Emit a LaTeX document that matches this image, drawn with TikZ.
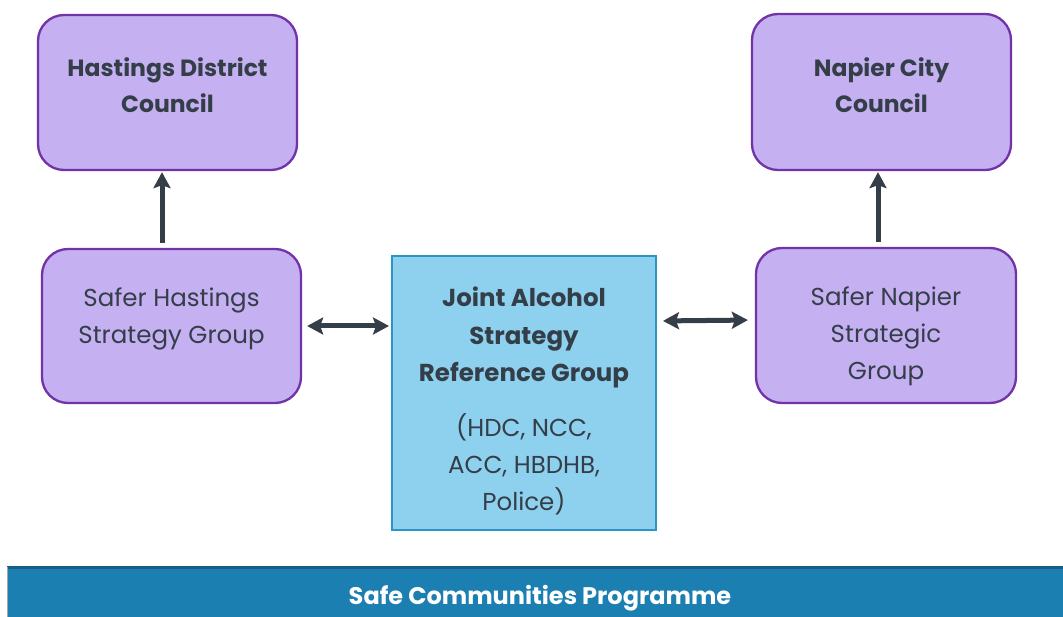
\documentclass[tikz,border=0pt]{standalone}
\usepackage{fontspec}
\setmainfont{Poppins}
\usetikzlibrary{arrows.meta}
\definecolor{pfill}{HTML}{C5B0F1}
\definecolor{pdraw}{HTML}{7232A8}
\definecolor{dtext}{HTML}{343E48}
\definecolor{bfill}{HTML}{8ED1EE}
\definecolor{bdraw}{HTML}{2A95C7}
\definecolor{barfill}{HTML}{1B7FB1}
\definecolor{bartop}{HTML}{165E86}
\tikzset{
  pbox/.style={draw=pdraw, fill=pfill, line width=2.3pt, rounded corners=26pt, inner sep=0pt},
  jbox/.style={draw=bdraw, fill=bfill, line width=2pt, inner sep=0pt},
  btxt/.style={text=dtext, align=center, font=\fontsize{23.5}{36}\selectfont\bfseries},
  ntxt/.style={text=dtext, align=center, font=\fontsize{24.5}{37}\selectfont},
  tip/.style={Stealth[length=16pt,width=17pt,inset=3pt]},
  conn/.style={draw=dtext, line width=5pt, -{Stealth[length=16pt,width=17pt,inset=3pt]}},
  dconn/.style={draw=dtext, line width=5pt, {Stealth[length=16pt,width=17pt,inset=3pt]}-{Stealth[length=16pt,width=17pt,inset=3pt]}}
}
\begin{document}
\begin{tikzpicture}[x=1pt,y=-1pt]
\useasboundingbox (0,0) rectangle (1063,617);
\node[pbox, minimum width=259pt, minimum height=155pt] (hdc) at (167.5,92.5) {};
\node[pbox, minimum width=259pt, minimum height=156pt] (ncc) at (881.5,92) {};
\node[pbox, minimum width=259pt, minimum height=154pt] (shs) at (171.5,326) {};
\node[pbox, minimum width=260pt, minimum height=155pt] (sns) at (886,325.5) {};
\node[jbox, minimum width=264pt, minimum height=274pt] (jas) at (524,393) {};
\node[btxt] (hdct) at (167.5,85) {Hastings District\\Council};
\node[btxt] (ncct) at (881.5,85) {Napier City\\Council};
\node[ntxt] (shst) at (171.5,318.5) {Safer Hastings\\Strategy Group};
\node[ntxt] (snst) at (886,336) {Safer Napier\\Strategic\\Group};
\node[btxt, font=\fontsize{24.5}{37.5}\selectfont\bfseries] (jast1) at (524,337.5) {Joint Alcohol\\Strategy\\Reference Group};
\node[ntxt] (jast2) at (524,464) {(HDC, NCC,\\ACC, HBDHB,\\Police)};
% bottom bar
\node[fill=barfill, minimum width=1080pt, minimum height=58pt, inner sep=0pt, anchor=north west] (bar) at (7,567) {};
\draw[bartop, line width=3pt] (bar.north west) -- (bar.north east);
\draw[gray!70, line width=1pt] (bar.north west) -- (bar.south west);
\node[text=white, font=\fontsize{24}{28}\selectfont\bfseries] (bart) at (540,598) {Safe Communities Programme};
% connectors
\draw[conn, shorten <=5pt, shorten >=1pt] ([xshift=-9.5pt]shs.north) -- ([xshift=-5.5pt]hdc.south);
\draw[conn, shorten <=5pt, shorten >=1pt] ([xshift=-8pt]sns.north) -- ([xshift=-3.5pt]ncc.south);
\draw[dconn, shorten <=5pt, shorten >=2pt] (shs.east) -- ([yshift=67pt]jas.west);
\draw[dconn, shorten <=6pt, shorten >=7pt] ([yshift=72pt]jas.east) -- ([yshift=5.5pt]sns.west);
\end{tikzpicture}
\end{document}
